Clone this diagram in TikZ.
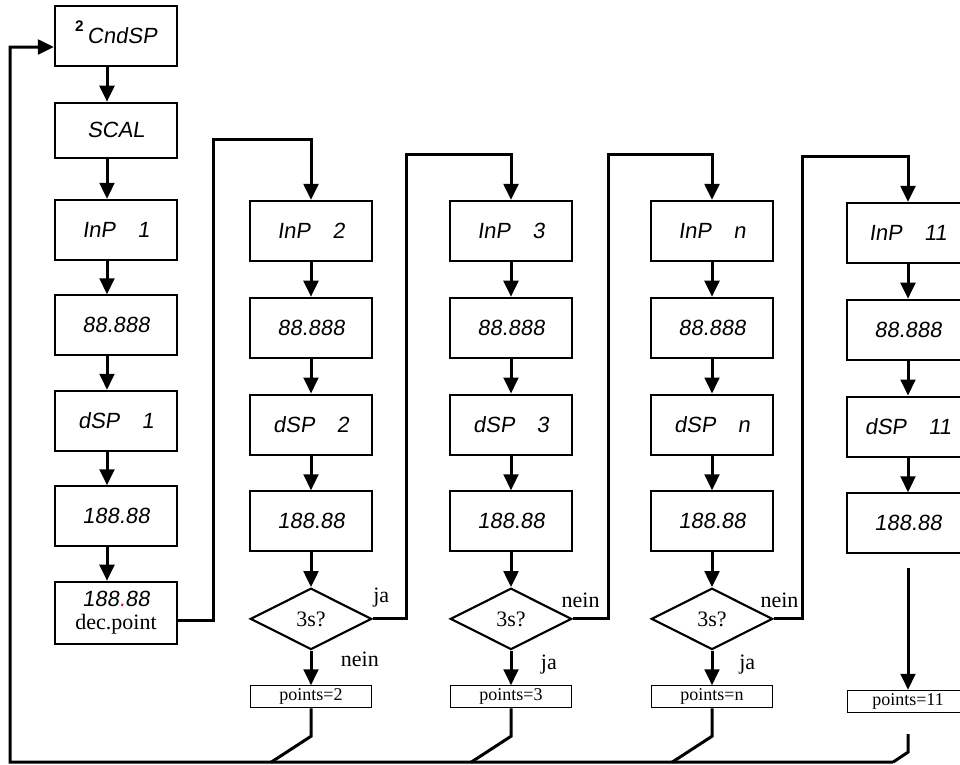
\documentclass[tikz,border=0pt]{standalone}
\usepackage{fontspec}
\setmainfont{Liberation Serif}
\newfontfamily\segfont{Liberation Sans}[FakeSlant=0.15]
\newfontfamily\plainsans{Liberation Sans}
\usepackage{xcolor}
\usetikzlibrary{arrows.meta,positioning,shapes.geometric}

\begin{document}
\begin{tikzpicture}[
  x=0.75pt, y=-0.75pt,
  font=\fontsize{16.5}{18}\selectfont,
  box/.style={draw, line width=1.6pt, minimum width=91.5pt, minimum height=45pt, inner sep=2pt, font=\segfont\fontsize{16.5}{18}\selectfont},
  ask/.style={draw, line width=1.6pt, shape=diamond, aspect=2, minimum width=91pt, minimum height=46pt, inner sep=0pt},
  pts/.style={draw, line width=0.75pt, minimum width=91pt, minimum height=16.5pt, inner sep=1pt, font=\fontsize{13.5}{15}\selectfont},
  arr/.style={-{Triangle[width=11pt,length=12pt]}, line width=2.25pt},
  lin/.style={line width=2.25pt},
  lbl/.style={font=\fontsize{16.5}{18}\selectfont}
]
\useasboundingbox (0,0) rectangle (960,764);
\clip (0,0) rectangle (960,764);

% column 1
\node[box] (cnd) at (116,36) {\smash{\raisebox{9pt}{\plainsans\bfseries\fontsize{11.5}{12}\selectfont 2}}\,CndSP};
\node[box, minimum height=41.25pt, below=26pt of cnd] (scal) {SCAL};
\node[box, below=30pt of scal] (inp1) {InP\quad 1};
\node[box, below=25pt of inp1] (val1) {88.888};
\node[box, below=25pt of val1] (dsp1) {dSP\quad 1};
\node[box, below=25pt of dsp1] (num1) {188.88};
\node[box, below=25pt of num1, minimum height=46.5pt, align=center] (dec) {188{\color{red}.}88\\[-1pt]{\rmfamily\fontsize{16.5}{18}\selectfont dec.point}};

\draw[arr] ([xshift=-6.75pt]cnd.south) -- ([xshift=-6.75pt]scal.north);
\draw[arr] ([xshift=-6.75pt]scal.south) -- ([xshift=-6.75pt]inp1.north);
\draw[arr] ([xshift=-6.75pt]inp1.south) -- ([xshift=-6.75pt]val1.north);
\draw[arr] ([xshift=-6.75pt]val1.south) -- ([xshift=-6.75pt]dsp1.north);
\draw[arr] ([xshift=-6.75pt]dsp1.south) -- ([xshift=-6.75pt]num1.north);
\draw[arr] ([xshift=-6.75pt]num1.south) -- ([xshift=-6.75pt]dec.north);

% column 2
\node[box] (inp2) at (311,231) {InP\quad 2};
\node[box, below=26pt of inp2] (val2) {88.888};
\node[box, below=26pt of val2] (dsp2) {dSP\quad 2};
\node[box, below=26pt of dsp2] (num2) {188.88};
\node[ask, below=26pt of num2] (ask2) {3s?};
\node[pts, below=26pt of ask2] (pts2) {points=2};

\draw[arr] ([yshift=-6pt]dec.east) -- ++(35,0) |- ([yshift=45pt]inp2.north) -- (inp2.north);
\draw[arr] (inp2) -- (val2);
\draw[arr] (val2) -- (dsp2);
\draw[arr] (dsp2) -- (num2);
\draw[arr] (num2) -- (ask2);
\draw[arr] (ask2) -- node[pos=0.25, right=18pt, lbl] {nein} (pts2);
\draw[lin] (pts2.south) -- ++(0,28) -- ++(-40,26);

% column 3
\node[box] (inp3) at (511,231) {InP\quad 3};
\node[box, below=26pt of inp3] (val3) {88.888};
\node[box, below=26pt of val3] (dsp3) {dSP\quad 3};
\node[box, below=26pt of dsp3] (num3) {188.88};
\node[ask, below=26pt of num3] (ask3) {3s?};
\node[pts, below=26pt of ask3] (pts3) {points=3};

\draw[arr] (ask2.east) -- ++(34,0) node[pos=0.25, above=4pt, lbl] {ja} |- ([yshift=34pt]inp3.north) -- (inp3.north);
\draw[arr] (inp3) -- (val3);
\draw[arr] (val3) -- (dsp3);
\draw[arr] (dsp3) -- (num3);
\draw[arr] (num3) -- (ask3);
\draw[arr] (ask3) -- node[pos=0.4, right=18pt, lbl] {ja} (pts3);
\draw[lin] (pts3.south) -- ++(0,28) -- ++(-40,26);

% column 4
\node[box] (inpn) at (712,231) {InP\quad n};
\node[box, below=26pt of inpn] (valn) {88.888};
\node[box, below=26pt of valn] (dspn) {dSP\quad n};
\node[box, below=26pt of dspn] (numn) {188.88};
\node[ask, below=26pt of numn] (askn) {3s?};
\node[pts, below=26pt of askn] (ptsn) {points=n};

\draw[arr] (ask3.east) -- ++(36,0) node[pos=0.22, above=4pt, lbl] {nein} |- ([yshift=34pt]inpn.north) -- (inpn.north);
\draw[arr] (inpn) -- (valn);
\draw[arr] (valn) -- (dspn);
\draw[arr] (dspn) -- (numn);
\draw[arr] (numn) -- (askn);
\draw[arr] (askn) -- node[pos=0.4, right=16pt, lbl] {ja} (ptsn);
\draw[lin] (ptsn.south) -- ++(0,28) -- ++(-40,26);

% column 5
\node[box] (inp11) at (908,233) {InP\quad 11};
\node[box, below=26pt of inp11] (val11) {88.888};
\node[box, below=26pt of val11] (dsp11) {dSP\quad 11};
\node[box, below=26pt of dsp11] (num11) {188.88};
\node[pts, below=101.5pt of num11] (pts11) {points=11};

\draw[arr] (askn.east) -- ++(29,0) node[pos=0.2, above=4pt, lbl] {nein} |- ([yshift=33.75pt]inp11.north) -- (inp11.north);
\draw[arr] (inp11) -- (val11);
\draw[arr] (val11) -- (dsp11);
\draw[arr] (dsp11) -- (num11);
\draw[arr] ([yshift=-10pt]num11.south) -- (pts11.north);
\draw[lin] ([yshift=-16pt]pts11.south) -- ++(0,18) -- ++(-15,10) coordinate (ret);

% back to the start
\draw[arr] (ret) -- (10,762) |- ([yshift=-8.25pt]cnd.west);
\end{tikzpicture}
\end{document}
